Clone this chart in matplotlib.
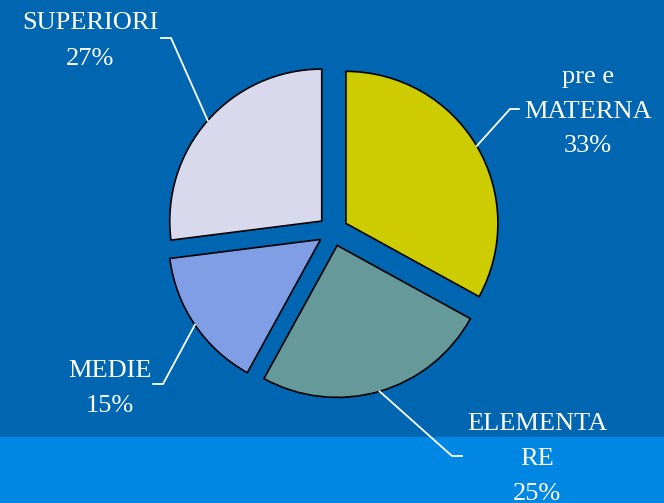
import numpy as np
import matplotlib
matplotlib.use("Agg")
import matplotlib.pyplot as plt
from matplotlib.patches import Rectangle

# ---- data ----
categories = ["pre e\nMATERNA", "ELEMENTA\nRE", "MEDIE", "SUPERIORI"]
values = [33, 25, 15, 27]
pct_labels = ["33%", "25%", "15%", "27%"]
colors = ["#CCCC00", "#669999", "#809EE6", "#D9D9ED"]

W, H = 664, 503
fig = plt.figure(figsize=(W / 100, H / 100), dpi=100)
fig.patch.set_facecolor("#0066B2")
ax = fig.add_axes([0, 0, 1, 1])

def Y(y):
    return H - y

# lighter strip at bottom
ax.add_patch(Rectangle((0, 0), W, H - 437, facecolor="#0087E4", edgecolor="none", zorder=0))

cx, cy, R = 333, Y(231), 152
expl = 15  # absolute offset in data (pixel) units
wedges, _ = ax.pie(values, colors=colors, startangle=90, counterclock=False,
                   explode=[expl] * len(values), radius=R, center=(cx, cy),
                   wedgeprops=dict(edgecolor="black", linewidth=1.2), frame=True)
ax.set_xlim(0, W)
ax.set_ylim(0, H)
ax.set_aspect("equal")
ax.axis("off")

# label layout: (x center, baselines in px from top) and leader elbow/end
layout = [
    dict(x=588, base=[83, 118, 152], elbow=(510, 109), end=(519, 109)),
    dict(x=537, base=[430, 465, 500], elbow=(452, 456), end=(462, 456)),
    dict(x=110, base=[377, 412], elbow=(163, 384), end=(153, 384)),
    dict(x=90, base=[29, 65], elbow=(171, 38), end=(161, 38)),
]

font = dict(family=["Liberation Serif", "DejaVu Serif"], size=19, color="white")
for w, cat, pct, lay in zip(wedges, categories, pct_labels, layout):
    lines = cat.split("\n") + [pct]
    for txt, b in zip(lines, lay["base"]):
        ax.text(lay["x"], Y(b), txt, ha="center", va="baseline", **font)
    mid = np.deg2rad((w.theta1 + w.theta2) / 2)
    wx, wy = w.center
    px, py = wx + R * np.cos(mid), wy + R * np.sin(mid)
    ex, ey = lay["elbow"]
    tx, ty = lay["end"]
    ax.plot([px, ex, tx], [py, Y(ey), Y(ty)], color="white", lw=1.3,
            solid_joinstyle="miter", zorder=1)

fig.savefig("out.png", dpi=100, facecolor=fig.get_facecolor())
